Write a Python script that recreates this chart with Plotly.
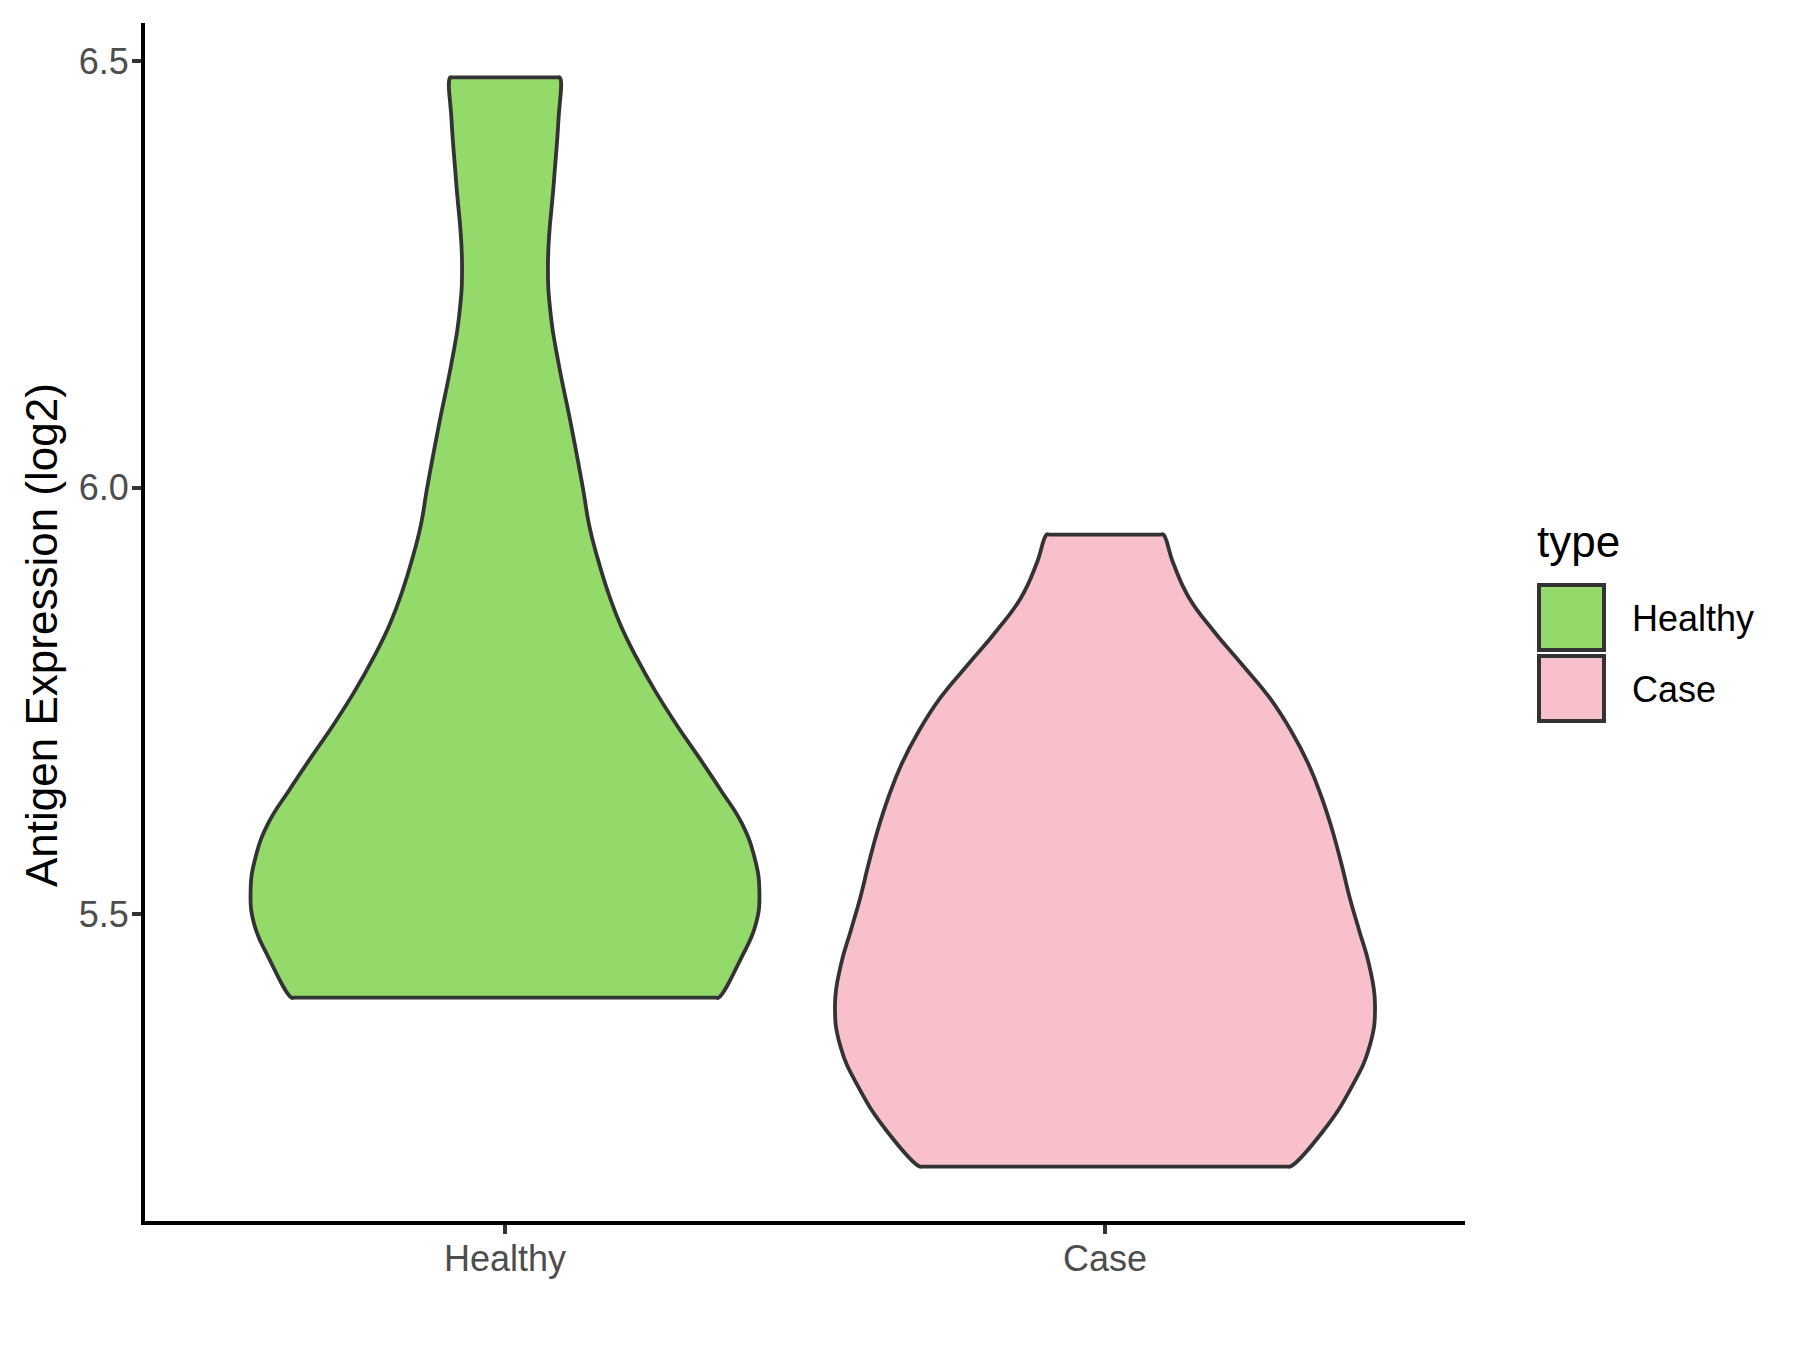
import plotly.graph_objects as go

# violin outlines: expression level (top -> bottom) and half-width in category units
categories = ["Healthy", "Case"]
fill_colors = ["#93DA6A", "#F7C0CB"]

healthy_y = [6.481, 6.430, 6.359, 6.266, 6.202, 6.145, 6.074, 5.997, 5.957, 5.918, 5.879, 5.840,
             5.801, 5.762, 5.723, 5.684, 5.645, 5.606, 5.566, 5.527, 5.488, 5.449, 5.402]
healthy_halfwidth = [0.0913, 0.0890, 0.0815, 0.0717, 0.0763, 0.0895, 0.110, 0.1305, 0.140, 0.154,
                     0.171, 0.192, 0.219, 0.250, 0.285, 0.323, 0.360, 0.395, 0.416, 0.424,
                     0.418, 0.394, 0.356]

case_y = [5.945, 5.911, 5.871, 5.832, 5.793, 5.754, 5.715, 5.676, 5.637, 5.598,
          5.559, 5.519, 5.480, 5.441, 5.394, 5.345, 5.296, 5.246, 5.204]
case_halfwidth = [0.0972, 0.114, 0.140, 0.181, 0.228, 0.274, 0.310, 0.339, 0.361, 0.379,
                  0.394, 0.408, 0.424, 0.440, 0.450, 0.441, 0.410, 0.364, 0.309]

y_ticks = [5.5, 6.0, 6.5]

W, H = 1800, 1350
PAGE = 8  # browser body margin
M = dict(l=145 - PAGE, r=335 + PAGE, t=23 - PAGE, b=129 + PAGE)
OUTLINE = "#333333"
EPS = 0.004  # keeps the trimmed ends flat under spline smoothing


def px_x(px):
    # page pixel -> paper x
    return (px - PAGE - M["l"]) / (W - M["l"] - M["r"])


def px_y(py):
    return (H - M["b"] - (py - PAGE)) / (H - M["t"] - M["b"])


def violin_path(pos, ys, hw):
    top, bot = ys[0], ys[-1]
    xs, yy = [], []
    # right side, bottom -> top
    xs += [pos + w for w in reversed(hw)]
    yy += list(reversed(ys))
    # flat top, right -> left
    xs += [pos + hw[0] - EPS, pos, pos - hw[0] + EPS]
    yy += [top, top, top]
    # left side, top -> bottom
    xs += [pos - w for w in hw]
    yy += list(ys)
    # flat bottom, left -> right, back to start
    xs += [pos - hw[-1] + EPS, pos, pos + hw[-1] - EPS, pos + hw[-1]]
    yy += [bot, bot, bot, bot]
    return xs, yy


fig = go.Figure()
profiles = [(healthy_y, healthy_halfwidth), (case_y, case_halfwidth)]
for i, (name, (ys, hw)) in enumerate(zip(categories, profiles)):
    xs, yy = violin_path(i + 1, ys, hw)
    fig.add_trace(go.Scatter(
        x=xs, y=yy, mode="lines", fill="toself", fillcolor=fill_colors[i],
        line=dict(color=OUTLINE, width=3.8, shape="spline", smoothing=1.3, simplify=False),
        name=name, showlegend=False, hoverinfo="skip",
    ))

all_y = healthy_y + case_y
lo, hi = min(all_y), max(all_y)
pad = 0.05 * (hi - lo)

fig.update_layout(
    width=W, height=H,
    paper_bgcolor="white", plot_bgcolor="white",
    margin=M,
    font=dict(family="Liberation Sans, Arial, sans-serif", color="#4D4D4D"),
    showlegend=False,
    xaxis=dict(
        range=[0.4, 2.6], tickvals=[1, 2], ticktext=categories,
        showgrid=False, zeroline=False,
        showline=True, linecolor="black", linewidth=4,
        ticks="outside", ticklen=9, tickwidth=4, tickcolor=OUTLINE,
        tickfont=dict(size=36, color="#4D4D4D"), ticklabelstandoff=-6,
    ),
    yaxis=dict(
        range=[lo - pad, hi + pad], tickvals=y_ticks, tickformat=".1f",
        showgrid=False, zeroline=False,
        showline=True, linecolor="black", linewidth=4,
        ticks="outside", ticklen=9, tickwidth=4, tickcolor=OUTLINE,
        tickfont=dict(size=36, color="#4D4D4D"), ticklabelstandoff=-4,
    ),
)

# y axis title
fig.add_annotation(
    text="Antigen Expression (log2)", textangle=-90,
    xref="paper", yref="paper", x=px_x(41), y=px_y(635),
    xanchor="center", yanchor="middle", showarrow=False,
    font=dict(size=44, color="black"),
)

# legend drawn by hand to get ggplot-sized keys
fig.add_annotation(
    text="type", xref="paper", yref="paper", x=px_x(1535), y=px_y(541),
    xanchor="left", yanchor="middle", showarrow=False,
    font=dict(size=44, color="black"),
)
key_tops = [583, 654]
for name, color, top in zip(categories, fill_colors, key_tops):
    fig.add_shape(
        type="rect", xref="paper", yref="paper",
        x0=px_x(1539), x1=px_x(1604), y0=px_y(top + 67), y1=px_y(top + 2),
        fillcolor=color, line=dict(color=OUTLINE, width=4),
    )
    fig.add_annotation(
        text=name, xref="paper", yref="paper", x=px_x(1630), y=px_y(top + 35),
        xanchor="left", yanchor="middle", showarrow=False,
        font=dict(size=36, color="black"),
    )

fig.write_html("out.html")
